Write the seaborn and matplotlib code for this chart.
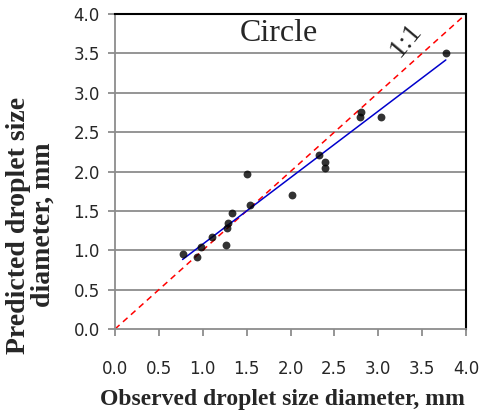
import numpy as np
import pandas as pd
import matplotlib
matplotlib.use("Agg")
import matplotlib.pyplot as plt
import seaborn as sns

observed = [0.77, 0.93, 0.98, 1.10, 1.26, 1.28, 1.29, 1.33, 1.50, 1.54,
            2.02, 2.33, 2.39, 2.39, 2.80, 2.79, 3.03, 3.77]
predicted = [0.95, 0.91, 1.04, 1.17, 1.07, 1.28, 1.35, 1.47, 1.97, 1.57,
             1.70, 2.21, 2.12, 2.04, 2.75, 2.69, 2.69, 3.50]
ticks = [0.0, 0.5, 1.0, 1.5, 2.0, 2.5, 3.0, 3.5, 4.0]

df = pd.DataFrame({"observed": observed, "predicted": predicted})

sns.set_style("white")
fig = plt.figure(figsize=(4.82, 4.17), dpi=100)
ax = fig.add_axes([0.2386, 0.211, 0.7282, 0.7554])

for t in ticks[1:-1]:
    ax.axhline(t, color="#8c8c8c", lw=1.3, zorder=0)

ax.plot([0, 4], [0, 4], color="red", ls=(0, (4, 3)), lw=1.1, zorder=1)

sns.regplot(data=df, x="observed", y="predicted", ax=ax, ci=None, truncate=True,
            scatter_kws={"color": "black", "s": 32, "zorder": 3, "linewidths": 0},
            line_kws={"color": "#0000cc", "lw": 1.1, "zorder": 2})

ax.set_xlim(0, 4)
ax.set_ylim(0, 4)
ax.set_xticks(ticks)
ax.set_yticks(ticks)
ax.set_xticklabels([f"{t:.1f}" for t in ticks])
ax.set_yticklabels([f"{t:.1f}" for t in ticks])

for s in ["left", "bottom"]:
    ax.spines[s].set_color("#8c8c8c")
    ax.spines[s].set_linewidth(1.3)
for s in ["top", "right"]:
    ax.spines[s].set_color("black")
    ax.spines[s].set_linewidth(1.5)

ax.tick_params(axis="x", direction="out", length=5, width=1.3, color="#8c8c8c",
               pad=17, labelsize=12, bottom=True)
ax.tick_params(axis="y", direction="out", length=5, width=1.3, color="#8c8c8c",
               pad=6, labelsize=12, left=True)
for lab in ax.get_xticklabels() + ax.get_yticklabels():
    lab.set_fontfamily("DejaVu Sans")

ax.set_xlabel("Observed droplet size diameter, mm", fontfamily="Liberation Serif",
              fontweight="bold", fontsize=17)
ax.set_ylabel("Predicted droplet size\ndiameter, mm", fontfamily="Liberation Serif",
              fontweight="bold", fontsize=20, linespacing=0.95)
ax.xaxis.set_label_coords(0.476, -0.19)
ax.yaxis.set_label_coords(-0.17, 0.33)

ax.text(1.87, 3.75, "Circle", fontfamily="Liberation Serif", fontsize=23,
        ha="center", va="center")
ax.text(3.32, 3.67, "1:1", fontfamily="Liberation Serif", fontsize=20,
        rotation=50, ha="center", va="center")

fig.savefig("out.png", dpi=100)
